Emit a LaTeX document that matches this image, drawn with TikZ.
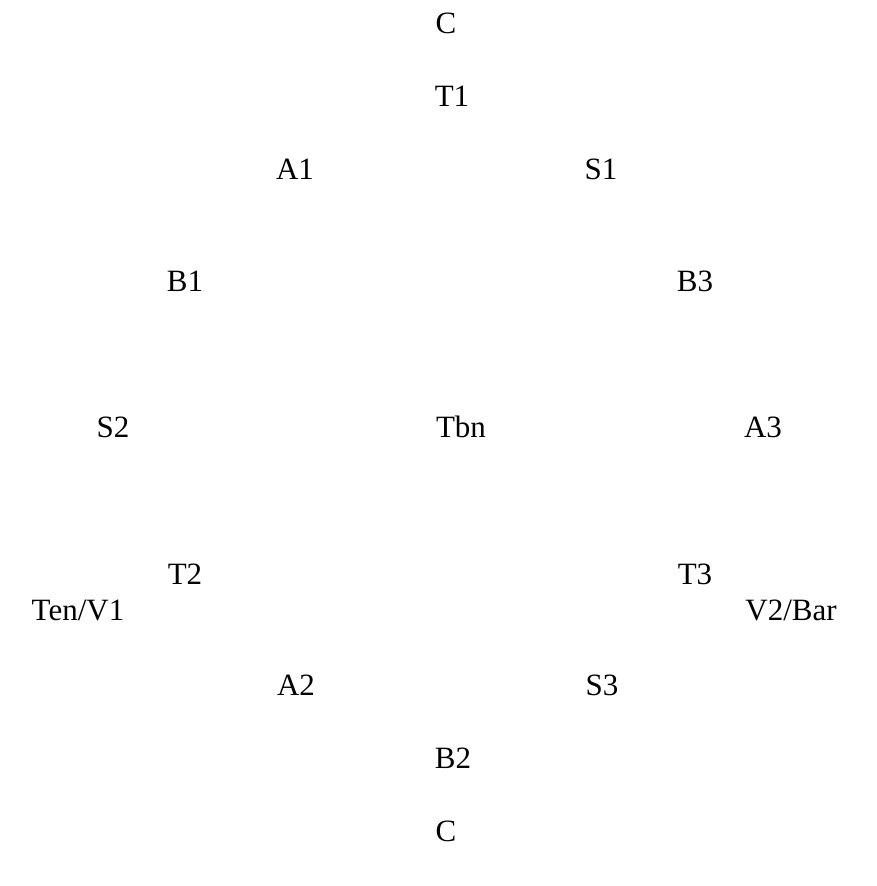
\documentclass[tikz,border=0pt]{standalone}
\usepackage{fontspec}
\setmainfont{Liberation Serif}
\usetikzlibrary{positioning}

\begin{document}
\begin{tikzpicture}[
		x=1pt, y=-1pt,
		lbl/.style={inner sep=0pt, anchor=base, font=\fontsize{31}{33}\selectfont}
		]
		\useasboundingbox (0, 0) rectangle (877, 886);
		\node at (446, 33) [name=c top, lbl] {C};
		\node at (452, 106) [name=t1, lbl] {T1};
		\node at (295, 179) [name=a1, lbl] {A1};
		\node at (601, 179) [name=s1, lbl] {S1};
		\node at (185, 291) [name=b1, lbl] {B1};
		\node at (695, 291) [name=b3, lbl] {B3};
		\node at (113, 437) [name=s2, lbl] {S2};
		\node at (461, 437) [name=tbn, lbl] {Tbn};
		\node at (763, 437) [name=a3, lbl] {A3};
		\node at (185, 584) [name=t2, lbl] {T2};
		\node at (695, 584) [name=t3, lbl] {T3};
		\node at (78, 620) [name=ten v1, lbl] {Ten/V1};
		\node at (791, 620) [name=v2 bar, lbl] {V2/Bar};
		\node at (296, 695) [name=a2, lbl] {A2};
		\node at (602, 695) [name=s3, lbl] {S3};
		\node at (453, 768) [name=b2, lbl] {B2};
		\node at (446, 841) [name=c bottom, lbl] {C};
	\end{tikzpicture}
\end{document}
